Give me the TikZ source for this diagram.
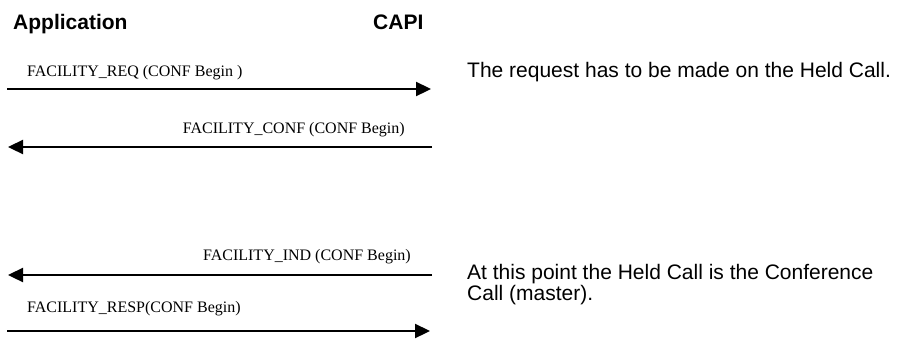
\documentclass[tikz,border=0pt]{standalone}
\usepackage{fontspec}
\setmainfont{Liberation Serif}
\setsansfont{Liberation Sans}
\usetikzlibrary{arrows.meta}

\begin{document}
\begin{tikzpicture}[x=1pt,y=-1pt,
  head/.style={anchor=base west,inner sep=0pt,font=\sffamily\bfseries\fontsize{21}{25}\selectfont},
  lbl/.style={inner sep=0pt,font=\rmfamily\fontsize{16}{19}\selectfont},
  note/.style={anchor=base west,inner sep=0pt,align=left,font=\sffamily\fontsize{21}{19}\selectfont},
  msg/.style={line width=2.3pt,-{Triangle[length=15pt,width=14pt]}}]
\useasboundingbox (0,0) rectangle (900,338);
\node[head] (app) at (13,29) {Application};
\node[head] (capi) at (373,29) {CAPI};
% lanes
\coordinate (a1) at (7,89);    \coordinate (c1) at (431,89);
\coordinate (a2) at (8,147);   \coordinate (c2) at (432,147);
\coordinate (a3) at (8,275);   \coordinate (c3) at (432,275);
\coordinate (a4) at (7,331);   \coordinate (c4) at (430,331);
% messages
\draw[msg] (a1) -- (c1);
\node[lbl,anchor=base west] (req) at (27,76) {FACILITY\_REQ (CONF Begin )};
\draw[msg] (c2) -- (a2);
\node[lbl,anchor=base east] (conf) at (405,133) {FACILITY\_CONF (CONF Begin)};
\draw[msg] (c3) -- (a3);
\node[lbl,anchor=base east] (ind) at (411,260) {FACILITY\_IND (CONF Begin)};
\draw[msg] (a4) -- (c4);
\node[lbl,anchor=base west] (resp) at (27,312) {FACILITY\_RESP(CONF Begin)};
% notes
\node[note] (n1) at (467,77) {The request has to be made on the Held Call.};
\node[note] (n2) at (467,300) {At this point the Held Call is the Conference\\Call (master).};
\end{tikzpicture}
\end{document}
